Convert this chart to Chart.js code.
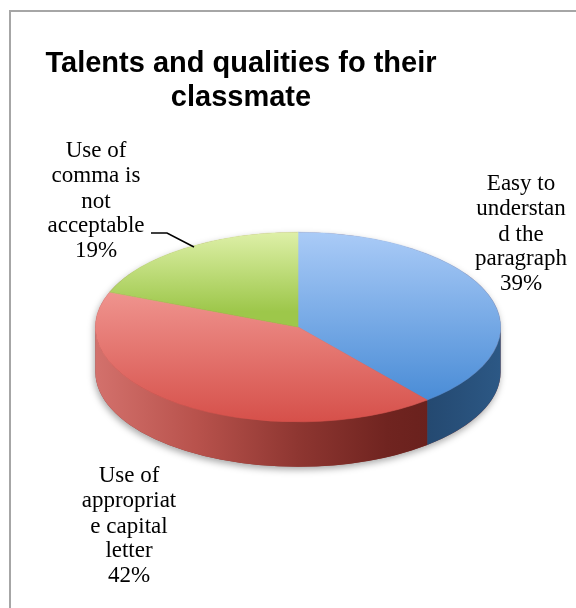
<!DOCTYPE html>
<html>
<head>
<meta charset="utf-8">
<script src="https://cdn.jsdelivr.net/npm/chart.js@4/dist/chart.umd.min.js"></script>
<style>
  html, body { margin: 0; padding: 0; background: #ffffff; }
  #wrap { position: relative; width: 576px; height: 608px; }
</style>
</head>
<body>
<div id="wrap"><canvas id="chart"></canvas></div>
<script>
// ---- data ----
const categories = [
  'Easy to understand the paragraph',
  'Use of appropriate capital letter',
  'Use of comma is not acceptable'
];
const shares = [39, 42, 19];
// label text as it wraps inside each data-label box
const labelLines = [
  ['Easy to', 'understan', 'd the', 'paragraph'],
  ['Use of', 'appropriat', 'e capital', 'letter'],
  ['Use of', 'comma is', 'not', 'acceptable']
];
const titleLines = ['Talents and qualities fo their', 'classmate'];

// ---- styling ----
const topShades = [            // vertical gradient of each slice's top face
  [[0, '#aacbf7'], [1, '#3d84d2']],
  [[0, '#fbb3ae'], [1, '#d6504a']],
  [[0, '#def0a8'], [0.42, '#9dc74a']]
];
const wallShades = [           // horizontal gradient of each slice's outer wall
  [[0, '#2a4f78'], [0.7, '#1f3f63'], [1, '#2c5885']],
  [[0, '#d3716c'], [0.25, '#b8524c'], [0.5, '#8e3631'], [0.72, '#702420'], [1, '#5e1c18']],
  [[0, '#8db043'], [1, '#5f7d22']]
];
const TILT = 0.468;   // vertical squash of the pie disc
const DEPTH = 45;     // thickness of the disc in px
const labelBoxes = [  // centre x and first baseline of each data label
  { x: 521, y: 190 },
  { x: 129, y: 482 },
  { x: 96,  y: 157 }
];
const LABEL_LEAD = 24.5;

function makeGradient(ctx, x0, y0, x1, y1, stops) {
  const g = ctx.createLinearGradient(x0, y0, x1, y1);
  stops.forEach(([o, c]) => g.addColorStop(o, c));
  return g;
}

function topFill(context) {
  const chart = context.chart;
  const area = chart.chartArea;
  const stops = topShades[context.dataIndex];
  if (!area) return stops[0][1];
  const cy = (area.top + area.bottom) / 2;
  const r = Math.min(area.right - area.left, area.bottom - area.top) / 2;
  return makeGradient(chart.ctx, 0, cy - r, 0, cy + r, stops);
}

// draws the disc walls and tilts the slice tops; adds frame, title and labels
const pie3d = {
  id: 'pie3d',
  beforeDraw(chart) {
    const ctx = chart.ctx;
    ctx.save();
    ctx.strokeStyle = '#a6a6a6';
    ctx.lineWidth = 2;
    ctx.beginPath();
    ctx.moveTo(10, 640);
    ctx.lineTo(10, 11);
    ctx.lineTo(600, 11);
    ctx.stroke();

    ctx.fillStyle = '#000000';
    ctx.font = 'bold 29px "Liberation Sans", Arial, sans-serif';
    ctx.textAlign = 'center';
    ctx.textBaseline = 'alphabetic';
    ctx.fillText(titleLines[0], 241, 72);
    ctx.fillText(titleLines[1], 241, 106);
    ctx.restore();
  },
  beforeDatasetDraw(chart, args) {
    const ctx = chart.ctx;
    const arcs = args.meta.data;
    if (!arcs.length) return;
    const { x: cx, y: cy, outerRadius: R } = arcs[0].getProps(['x', 'y', 'outerRadius'], true);
    const ry = R * TILT;

    // soft shadow under the disc
    ctx.save();
    ctx.shadowColor = 'rgba(0,0,0,0.35)';
    ctx.shadowBlur = 7;
    ctx.shadowOffsetX = -1;
    ctx.shadowOffsetY = 3;
    ctx.fillStyle = '#8a3a36';
    ctx.beginPath();
    ctx.ellipse(cx, cy, R, ry, 0, Math.PI, 2 * Math.PI);
    ctx.ellipse(cx, cy + DEPTH, R, ry, 0, 0, Math.PI);
    ctx.closePath();
    ctx.fill();
    ctx.restore();

    // outer walls of the front half
    arcs.forEach((arc, i) => {
      const { startAngle, endAngle } = arc.getProps(['startAngle', 'endAngle'], true);
      [[0, Math.PI], [2 * Math.PI, 3 * Math.PI]].forEach(([lo, hi]) => {
        const s = Math.max(startAngle, lo);
        const e = Math.min(endAngle, hi);
        if (e <= s) return;
        ctx.save();
        ctx.fillStyle = makeGradient(ctx, cx - R, 0, cx + R, 0, wallShades[i]);
        ctx.beginPath();
        ctx.ellipse(cx, cy, R, ry, 0, s, e);
        ctx.ellipse(cx, cy + DEPTH, R, ry, 0, e, s, true);
        ctx.closePath();
        ctx.fill();
        ctx.restore();
      });
    });

    // tilt the slice tops
    ctx.save();
    ctx.translate(cx, cy);
    ctx.scale(1, TILT);
    ctx.translate(-cx, -cy);
  },
  afterDatasetDraw(chart) {
    chart.ctx.restore();
  },
  afterDraw(chart) {
    const ctx = chart.ctx;
    const total = shares.reduce((a, b) => a + b, 0);
    ctx.save();
    ctx.fillStyle = '#000000';
    ctx.font = '23px "Liberation Serif", "DejaVu Serif", serif';
    ctx.textAlign = 'center';
    ctx.textBaseline = 'alphabetic';
    labelLines.forEach((lines, i) => {
      const box = labelBoxes[i];
      const pct = Math.round(shares[i] / total * 100) + '%';
      [...lines, pct].forEach((t, j) => ctx.fillText(t, box.x, box.y + j * LABEL_LEAD + (j >= 2 ? 1.5 : 0)));
    });
    // leader line for the small slice
    ctx.strokeStyle = '#000000';
    ctx.lineWidth = 1.6;
    ctx.beginPath();
    ctx.moveTo(151, 233);
    ctx.lineTo(167, 233);
    ctx.lineTo(194, 247);
    ctx.stroke();
    ctx.restore();
  }
};

new Chart(document.getElementById('chart'), {
  type: 'pie',
  data: {
    labels: categories,
    datasets: [{
      data: shares,
      backgroundColor: topFill,
      borderColor: topFill,
      borderWidth: 0.8
    }]
  },
  options: {
    responsive: true,
    maintainAspectRatio: false,
    animation: false,
    events: [],
    layout: { padding: { left: 95, right: 75, top: 124, bottom: 78 } },
    plugins: {
      legend: { display: false },
      tooltip: { enabled: false },
      title: { display: false }
    }
  },
  plugins: [pie3d]
});
</script>
</body>
</html>
